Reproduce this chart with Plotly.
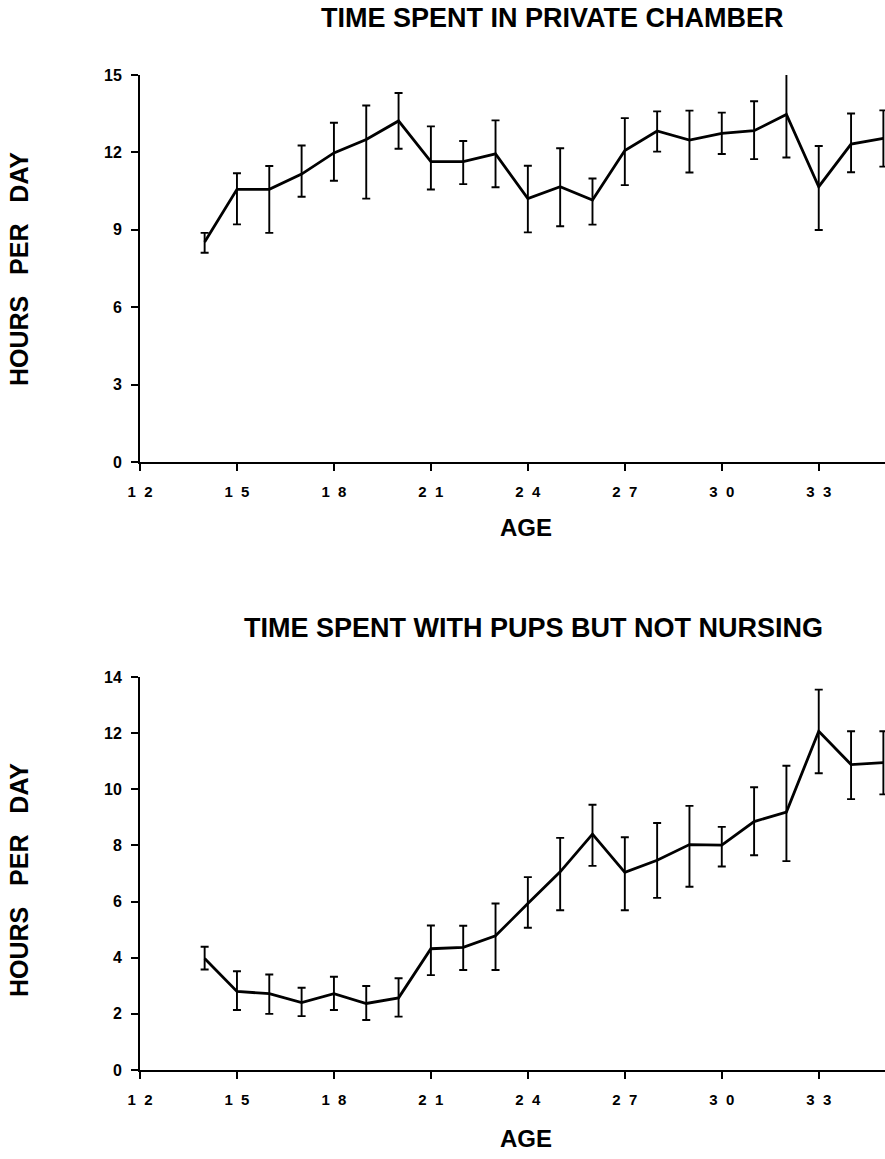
import plotly.graph_objects as go

W, H = 885, 1159

# ---------------- data ----------------
ages = [14, 15, 16, 17, 18, 19, 20, 21, 22, 23, 24, 25, 26, 27, 28, 29, 30, 31, 32, 33, 34, 35]

chamber_mean = [8.53, 10.57, 10.57, 11.16, 11.98, 12.50, 13.22, 11.64, 11.64, 11.94, 10.21,
                10.67, 10.15, 12.07, 12.83, 12.48, 12.74, 12.84, 13.47, 10.67, 12.32, 12.54]
chamber_upper = [8.88, 11.19, 11.47, 12.27, 13.15, 13.82, 14.30, 13.01, 12.44, 13.24, 11.48,
                 12.16, 10.99, 13.33, 13.59, 13.62, 13.54, 13.98, 15.09, 12.25, 13.51, 13.63]
chamber_lower = [8.11, 9.21, 8.88, 10.28, 10.90, 10.21, 12.14, 10.56, 10.77, 10.65, 8.90,
                 9.14, 9.20, 10.73, 12.03, 11.22, 11.94, 11.74, 11.80, 8.99, 11.23, 11.45]

pups_mean = [3.97, 2.80, 2.72, 2.40, 2.72, 2.37, 2.57, 4.32, 4.37, 4.78, 5.93,
             7.06, 8.40, 7.04, 7.47, 8.03, 8.01, 8.85, 9.19, 12.07, 10.88, 10.95]
pups_upper = [4.39, 3.52, 3.40, 2.93, 3.32, 2.99, 3.27, 5.15, 5.14, 5.93, 6.87,
              8.27, 9.45, 8.29, 8.80, 9.41, 8.66, 10.07, 10.84, 13.55, 12.07, 12.07]
pups_lower = [3.58, 2.14, 2.00, 1.92, 2.14, 1.78, 1.90, 3.38, 3.56, 3.56, 5.07,
              5.69, 7.27, 5.69, 6.13, 6.53, 7.25, 7.65, 7.44, 10.57, 9.65, 9.82]

x_tickvals = [12, 15, 18, 21, 24, 27, 30, 33]
x_ticktext = ["1\u00a0\u00a02", "1\u00a0\u00a05", "1\u00a0\u00a08", "2\u00a0\u00a01",
              "2\u00a0\u00a04", "2\u00a0\u00a07", "3\u00a0\u00a00", "3\u00a0\u00a03"]
top_yticks = [0, 3, 6, 9, 12, 15]
bot_yticks = [0, 2, 4, 6, 8, 10, 12, 14]

titles = ["TIME SPENT IN PRIVATE CHAMBER", "TIME SPENT WITH PUPS BUT NOT NURSING"]
x_title = "AGE"
y_title = "HOURS\u00a0\u00a0\u00a0PER\u00a0\u00a0\u00a0DAY"

# ---------------- figure ----------------
FONT = "Liberation Sans, Arial, Helvetica, sans-serif"

def py(p):
    return 1 - p / H

def trace(mean, upper, lower, xa, ya):
    return go.Scatter(
        x=ages, y=mean, mode="lines", xaxis=xa, yaxis=ya,
        line=dict(color="black", width=2.8),
        error_y=dict(type="data", symmetric=False,
                     array=[u - m for u, m in zip(upper, mean)],
                     arrayminus=[m - l for m, l in zip(mean, lower)],
                     color="black", thickness=1.9, width=4),
        showlegend=False, cliponaxis=False, hoverinfo="skip",
    )

fig = go.Figure()
fig.add_trace(trace(chamber_mean, chamber_upper, chamber_lower, "x", "y"))
fig.add_trace(trace(pups_mean, pups_upper, pups_lower, "x2", "y2"))

xcommon = dict(range=[12, 35.05], domain=[140 / W, 1.0], tickmode="array",
               tickvals=x_tickvals, ticktext=x_ticktext, ticks="outside", ticklen=7,
               tickwidth=1.8, tickcolor="black", showline=True, linecolor="black",
               linewidth=2, showgrid=False, zeroline=False, ticklabelstandoff=8,
               automargin=False,
               tickfont=dict(family=FONT, size=15, color="black", weight="bold"))
ycommon = dict(ticks="outside", ticklen=7, tickwidth=1.8, tickcolor="black",
               showline=True, linecolor="black", linewidth=2, showgrid=False,
               zeroline=False, ticklabelstandoff=6, automargin=False,
               tickfont=dict(family=FONT, size=16, color="black", weight="bold"))

fig.update_layout(
    width=W, height=H, paper_bgcolor="white", plot_bgcolor="white",
    margin=dict(l=0, r=0, t=0, b=0, pad=0), autosize=False,
    xaxis=dict(**xcommon, anchor="y"),
    yaxis=dict(**ycommon, range=[0, 15], domain=[py(462), py(75)], anchor="x",
               tickvals=top_yticks),
    xaxis2=dict(**xcommon, anchor="y2"),
    yaxis2=dict(**ycommon, range=[0, 14], domain=[py(1070), py(677)], anchor="x2",
                tickvals=bot_yticks),
)

ann_font = dict(family=FONT, color="black", weight="bold")
annotations = [
    dict(text=titles[0], x=552 / W, y=py(18), font=dict(**ann_font, size=27)),
    dict(text=titles[1], x=533 / W, y=py(628), font=dict(**ann_font, size=27)),
    dict(text=x_title, x=526 / W, y=py(527), font=dict(**ann_font, size=24)),
    dict(text=x_title, x=526 / W, y=py(1138), font=dict(**ann_font, size=24)),
    dict(text=y_title, x=19 / W, y=py(269), textangle=-90, font=dict(**ann_font, size=25)),
    dict(text=y_title, x=19 / W, y=py(880), textangle=-90, font=dict(**ann_font, size=25)),
]
for a in annotations:
    fig.add_annotation(xref="paper", yref="paper", xanchor="center", yanchor="middle",
                       showarrow=False, **a)

fig.write_html(
    "out.html",
    post_script="document.body.style.margin='0';document.body.style.padding='0';"
                "document.body.style.overflow='hidden';",
)
